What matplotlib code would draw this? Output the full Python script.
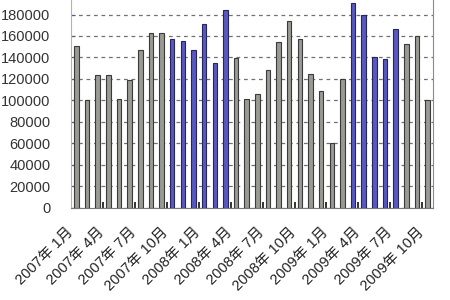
import matplotlib
matplotlib.use("Agg")
import matplotlib.pyplot as plt
import matplotlib.transforms as mtransforms
import numpy as np

plt.rcParams['font.family'] = ['Liberation Sans', 'Noto Sans CJK SC', 'DejaVu Sans']

# monthly values, 2007-01 .. 2009-10
values = [151000, 100000, 123400, 123400, 101700, 119000, 147000, 162500, 162500,
          157000, 155600, 147000, 171000, 134600, 184000,
          139500, 101700, 106300, 128700, 154700, 174200, 157000, 125000, 108800,
          60200, 120000,
          190400, 179200, 140800, 138300, 166500,
          152300, 160300, 100500]
tick_labels = ['2007年 1月', '2007年 4月', '2007年 7月', '2007年 10月',
               '2008年 1月', '2008年 4月', '2008年 7月', '2008年 10月',
               '2009年 1月', '2009年 4月', '2009年 7月', '2009年 10月']
yticks = [0, 20000, 40000, 60000, 80000, 100000, 120000, 140000, 160000, 180000]
blue_idx = [9, 10, 11, 12, 13, 14, 26, 27, 28, 29, 30]

fig = plt.figure(figsize=(4.5, 3), dpi=100)
ax = fig.add_axes([0.158, 0.307, 0.804, 0.693])

x = np.arange(len(values))
fills = ['#5858c0' if i in blue_idx else '#9a9a94' for i in x]
edges = ['#26265e' if i in blue_idx else '#3a3a3a' for i in x]
ax.bar(x, values, width=0.42, color=fills, edgecolor=edges, linewidth=0.8, zorder=3)

ax.set_xlim(-0.5, len(values) - 0.5)
ax.set_ylim(0, 193500)
ax.set_yticks(yticks)
ax.set_yticklabels([str(v) for v in yticks], fontsize=10.5, color='#333333')
ax.tick_params(axis='y', direction='in', length=3, color='#5a5a90', pad=15)

ax.set_xticks(x[::3])
ax.set_xticklabels(tick_labels, rotation=45, ha='right', va='center',
                   rotation_mode='anchor', fontsize=10.5, color='#222222')
ax.tick_params(axis='x', length=0, pad=16)
shift = mtransforms.ScaledTranslation(-6 / 100, 0, fig.dpi_scale_trans)
for lab in ax.get_xticklabels():
    lab.set_transform(lab.get_transform() + shift)
ax.set_xticks(np.arange(2.5, len(values) - 1, 3), minor=True)
ax.tick_params(axis='x', which='minor', direction='in', length=4, width=1.2, color='#111111')

ax.yaxis.grid(True, linestyle=(0, (3, 3)), color='#707070', linewidth=0.9, zorder=0)
ax.set_axisbelow(True)

ax.spines['top'].set_visible(False)
ax.spines['left'].set_color('#9cc49c')
ax.spines['right'].set_color('#8a8a8a')
ax.spines['bottom'].set_color('#7a7a7a')

fig.savefig('out.png', dpi=100)
